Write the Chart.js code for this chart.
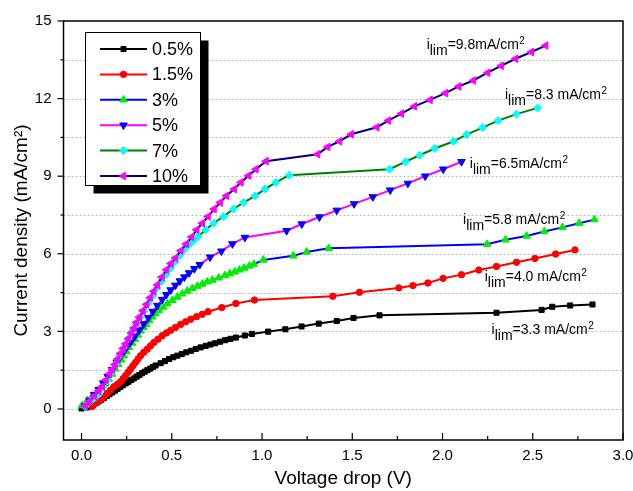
<!DOCTYPE html>
<html>
<head>
<meta charset="utf-8">
<script src="https://cdn.jsdelivr.net/npm/chart.js@4.4.0/dist/chart.umd.min.js"></script>
<style>
html, body { margin: 0; padding: 0; background: #fff; }
#wrap { width: 633px; height: 491px; }
</style>
</head>
<body>
<div id="wrap"><canvas id="ivChart" width="633" height="491"></canvas></div>
<script>
// --- data (V = voltage drop, J = current density)
var seriesNames = ['0.5%', '1.5%', '3%', '5%', '7%', '10%'];

var v05 = [0.0,0.03,0.05,0.065,0.08,0.095,0.11,0.125,0.14,0.155,0.17,0.185,0.2,0.215,0.23,0.245,0.26,0.275,0.29,0.305,0.32,0.335,0.35,0.365,0.38,0.395,0.41,0.438,0.462,0.485,0.508,0.53,0.555,0.58,0.607,0.633,0.66,0.688,0.714,0.74,0.768,0.796,0.825,0.855,0.905,0.944,1.034,1.129,1.219,1.314,1.414,1.507,1.651,2.299,2.549,2.608,2.707,2.831];
var j05 = [0.02,0.06,0.1,0.16,0.22,0.29,0.36,0.43,0.5,0.57,0.64,0.71,0.78,0.85,0.92,0.99,1.05,1.12,1.18,1.25,1.31,1.38,1.44,1.5,1.56,1.62,1.68,1.77,1.85,1.93,2.0,2.06,2.12,2.19,2.25,2.32,2.38,2.44,2.49,2.54,2.6,2.66,2.71,2.76,2.84,2.9,2.99,3.08,3.19,3.3,3.4,3.52,3.62,3.72,3.83,3.95,4.0,4.04];

var v15 = [0.06,0.086,0.1,0.114,0.128,0.142,0.16,0.179,0.198,0.216,0.23,0.244,0.258,0.271,0.285,0.299,0.313,0.327,0.345,0.364,0.382,0.401,0.424,0.447,0.47,0.494,0.52,0.549,0.577,0.605,0.637,0.669,0.701,0.777,0.855,0.958,1.392,1.54,1.758,1.836,1.919,2.003,2.105,2.201,2.299,2.41,2.512,2.627,2.734];
var j15 = [0.1,0.26,0.33,0.42,0.5,0.6,0.72,0.86,0.95,1.05,1.17,1.29,1.42,1.54,1.67,1.8,1.93,2.06,2.19,2.31,2.44,2.57,2.7,2.83,2.94,3.04,3.15,3.27,3.37,3.47,3.57,3.66,3.76,3.92,4.08,4.21,4.36,4.51,4.68,4.77,4.87,5.05,5.19,5.37,5.51,5.67,5.82,5.99,6.15];

var v3 = [0.003,0.031,0.06,0.086,0.11,0.133,0.15,0.169,0.186,0.203,0.22,0.234,0.248,0.262,0.28,0.296,0.312,0.327,0.343,0.358,0.375,0.392,0.41,0.429,0.452,0.475,0.503,0.531,0.558,0.586,0.614,0.642,0.669,0.697,0.725,0.76,0.794,0.821,0.849,0.875,0.901,0.93,0.955,1.007,1.173,1.247,1.369,2.247,2.349,2.466,2.564,2.664,2.757,2.842];
var j3 = [0.13,0.33,0.5,0.62,0.8,0.97,1.15,1.35,1.55,1.73,1.9,2.06,2.22,2.38,2.55,2.7,2.86,3.02,3.15,3.27,3.42,3.56,3.69,3.81,3.94,4.07,4.2,4.33,4.45,4.56,4.66,4.75,4.83,4.92,4.98,5.07,5.16,5.23,5.3,5.38,5.45,5.53,5.6,5.76,5.92,6.07,6.21,6.37,6.54,6.69,6.86,7.02,7.18,7.32];

var v5 = [0.02,0.045,0.07,0.095,0.12,0.145,0.17,0.195,0.22,0.245,0.27,0.295,0.32,0.345,0.37,0.395,0.42,0.447,0.47,0.494,0.52,0.545,0.57,0.596,0.625,0.655,0.712,0.775,0.836,0.905,1.136,1.22,1.318,1.414,1.51,1.614,1.71,1.808,1.904,2.004,2.105];
var j5 = [0.12,0.33,0.55,0.75,1.0,1.25,1.52,1.8,2.07,2.33,2.57,2.81,3.05,3.29,3.53,3.77,4.0,4.23,4.42,4.6,4.78,4.95,5.1,5.26,5.42,5.58,5.87,6.1,6.38,6.63,6.89,7.15,7.42,7.68,7.93,8.2,8.46,8.72,9.0,9.27,9.56];

var v7 = [0.02,0.05,0.075,0.096,0.12,0.142,0.165,0.188,0.21,0.234,0.257,0.281,0.303,0.325,0.346,0.37,0.395,0.419,0.444,0.469,0.494,0.518,0.543,0.568,0.594,0.62,0.646,0.688,0.731,0.786,0.842,0.897,0.962,1.016,1.077,1.151,1.707,1.796,1.873,1.957,2.062,2.133,2.222,2.308,2.41,2.527];
var j7 = [0.1,0.3,0.45,0.58,0.84,1.1,1.42,1.73,2.05,2.38,2.7,3.02,3.28,3.54,3.79,4.08,4.38,4.68,4.94,5.2,5.45,5.69,5.93,6.16,6.34,6.5,6.67,6.93,7.18,7.44,7.73,7.98,8.24,8.5,8.76,9.04,9.27,9.56,9.81,10.07,10.35,10.61,10.88,11.15,11.4,11.64];

var v10 = [0.02,0.045,0.07,0.095,0.115,0.135,0.155,0.17,0.185,0.2,0.215,0.23,0.245,0.26,0.275,0.29,0.305,0.32,0.34,0.36,0.38,0.4,0.42,0.445,0.47,0.495,0.52,0.55,0.58,0.61,0.638,0.669,0.701,0.734,0.768,0.803,0.846,0.883,0.925,0.966,1.022,1.308,1.364,1.429,1.494,1.636,1.7,1.772,1.844,1.931,2.016,2.09,2.171,2.25,2.325,2.405,2.492,2.572];
var j10 = [0.12,0.3,0.5,0.7,0.87,1.12,1.36,1.52,1.72,1.93,2.14,2.33,2.52,2.72,2.93,3.13,3.35,3.55,3.8,4.04,4.3,4.55,4.8,5.1,5.38,5.62,5.84,6.12,6.38,6.65,6.93,7.18,7.44,7.73,7.98,8.24,8.5,8.76,9.02,9.27,9.58,9.85,10.13,10.35,10.62,10.89,11.15,11.42,11.7,11.95,12.21,12.47,12.7,13.0,13.27,13.54,13.8,14.05];

var xTickValues = [0,0.25,0.5,0.75,1.0,1.25,1.5,1.75,2.0,2.25,2.5,2.75,3.0];
var yTickValues = [0,1.5,3,4.5,6,7.5,9,10.5,12,13.5,15];

// limiting current labels: [V, J, text]
var limLabels = [
    [1.912, 13.9, '=9.8mA/cm'],
    [2.346, 11.99, '=8.3 mA/cm'],
    [2.151, 9.32, '=6.5mA/cm'],
    [2.114, 7.14, '=5.8 mA/cm'],
    [2.234, 4.93, '=4.0 mA/cm'],
    [2.272, 2.91, '=3.3 mA/cm']
];

var FONT = 'Arial, "Liberation Sans", sans-serif';

function pts(vs, js) {
    return vs.map(function (v, i) { return { x: v, y: js[i] }; });
}

// line colour, marker colour, marker style, rotation, radius
var styles = [
    ['#000000', '#000000', 'rect', 0, 3.6],
    ['#ff0000', '#ff0000', 'circle', 0, 3.2],
    ['#0000ff', '#00ee00', 'triangle', 0, 4.4],
    ['#ff00ff', '#0000ff', 'triangle', 180, 4.4],
    ['#008000', '#00ffff', 'rectRot', 0, 4],
    ['#000080', '#ff00ff', 'triangle', -90, 4.4]
];
var allV = [v05, v15, v3, v5, v7, v10];
var allJ = [j05, j15, j3, j5, j7, j10];

var datasets = seriesNames.map(function (name, i) {
    var s = styles[i];
    return {
        label: name,
        data: pts(allV[i], allJ[i]),
        borderColor: s[0],
        borderWidth: 2,
        pointStyle: s[2],
        pointRotation: s[3],
        pointRadius: s[4],
        pointBackgroundColor: s[1],
        pointBorderColor: s[1],
        pointBorderWidth: 1,
        tension: 0,
        fill: false,
        order: 5 - i
    };
});

function drawMarker(ctx, ds, x, y) {
    ctx.fillStyle = ds.pointBackgroundColor;
    ctx.strokeStyle = ds.pointBorderColor;
    ctx.lineWidth = 1;
    if (Chart.helpers && Chart.helpers.drawPoint) {
        Chart.helpers.drawPoint(ctx, {
            pointStyle: ds.pointStyle, rotation: ds.pointRotation,
            radius: ds.pointRadius, borderWidth: 1
        }, x, y);
    } else {
        ctx.beginPath(); ctx.arc(x, y, ds.pointRadius, 0, Math.PI * 2); ctx.fill();
    }
}

// --- grid, frame, tick marks
var framePlugin = {
    id: 'frame',
    beforeDatasetsDraw: function (chart) {
        var ctx = chart.ctx, a = chart.chartArea, ys = chart.scales.y;
        ctx.save();
        ctx.strokeStyle = '#b8b8b8';
        ctx.lineWidth = 1;
        ctx.setLineDash([2, 2]);
        yTickValues.forEach(function (v) {
            if (v >= 15) return;
            var py = Math.round(ys.getPixelForValue(v)) + 0.5;
            ctx.beginPath(); ctx.moveTo(a.left, py); ctx.lineTo(a.right, py); ctx.stroke();
        });
        ctx.restore();
    },
    afterDraw: function (chart) {
        var ctx = chart.ctx, a = chart.chartArea, xs = chart.scales.x, ys = chart.scales.y;
        ctx.save();
        ctx.strokeStyle = '#000';
        ctx.lineWidth = 1.5;
        ctx.strokeRect(a.left, a.top, a.right - a.left, a.bottom - a.top);
        ctx.lineWidth = 1.2;
        yTickValues.forEach(function (v, i) {
            var py = ys.getPixelForValue(v);
            var len = (i % 2 === 0) ? 6 : 3;
            ctx.beginPath(); ctx.moveTo(a.left - len, py); ctx.lineTo(a.left, py); ctx.stroke();
        });
        xTickValues.forEach(function (v, i) {
            var px = xs.getPixelForValue(v);
            var len = (i % 2 === 0) ? 7 : 4;
            ctx.beginPath(); ctx.moveTo(px, a.bottom); ctx.lineTo(px, a.bottom - len); ctx.stroke();
        });
        ctx.restore();
    }
};

// --- i_lim annotations
var labelPlugin = {
    id: 'limLabels',
    afterDatasetsDraw: function (chart) {
        var ctx = chart.ctx, xs = chart.scales.x, ys = chart.scales.y;
        ctx.save();
        ctx.fillStyle = '#000';
        ctx.textBaseline = 'alphabetic';
        ctx.textAlign = 'left';
        limLabels.forEach(function (l) {
            var x = xs.getPixelForValue(l[0]);
            var y = ys.getPixelForValue(l[1]);
            ctx.font = '14px ' + FONT;
            ctx.fillText('i', x, y);
            x += ctx.measureText('i').width;
            ctx.fillText('lim', x, y + 6);
            x += ctx.measureText('lim').width;
            ctx.fillText(l[2], x, y);
            x += ctx.measureText(l[2]).width;
            ctx.font = '10px ' + FONT;
            ctx.fillText('2', x + 0.5, y - 5);
        });
        ctx.restore();
    }
};

// --- boxed legend with shadow
var legendPlugin = {
    id: 'boxLegend',
    afterDraw: function (chart) {
        var ctx = chart.ctx;
        var bx = 85.5, by = 32.5, bw = 115, bh = 153;
        ctx.save();
        ctx.fillStyle = '#000';
        ctx.fillRect(bx + 8, by + 8, bw, bh);
        ctx.fillStyle = '#fff';
        ctx.fillRect(bx, by, bw, bh);
        ctx.strokeStyle = '#000';
        ctx.lineWidth = 1;
        ctx.strokeRect(bx, by, bw, bh);
        chart.data.datasets.forEach(function (ds, i) {
            var y = 49 + i * 25.4;
            ctx.strokeStyle = ds.borderColor;
            ctx.lineWidth = 2;
            ctx.beginPath(); ctx.moveTo(100, y); ctx.lineTo(147, y); ctx.stroke();
            drawMarker(ctx, ds, 123.5, y);
            ctx.fillStyle = '#000';
            ctx.font = '18px ' + FONT;
            ctx.textBaseline = 'middle';
            ctx.fillText(ds.label, 152, y + 1);
        });
        ctx.restore();
    }
};

new Chart(document.getElementById('ivChart'), {
    type: 'line',
    data: { datasets: datasets },
    plugins: [framePlugin, labelPlugin, legendPlugin],
    options: {
        responsive: false,
        animation: false,
        layout: { padding: { top: 21, right: 10, bottom: 0, left: 0 } },
        plugins: { legend: { display: false }, tooltip: { enabled: false } },
        scales: {
            x: {
                type: 'linear',
                min: -0.1,
                max: 3.0,
                afterBuildTicks: function (scale) {
                    scale.ticks = xTickValues.map(function (v) { return { value: v }; });
                },
                afterFit: function (scale) {
                    scale.height = 51;
                    scale.paddingLeft = 0;
                    scale.paddingRight = 0;
                },
                grid: { display: false, drawTicks: false },
                border: { display: false },
                ticks: {
                    autoSkip: false,
                    maxRotation: 0,
                    padding: 7,
                    color: '#000',
                    font: { family: FONT, size: 15 },
                    callback: function (v) {
                        return Math.abs(v * 2 - Math.round(v * 2)) < 1e-6 ? v.toFixed(1) : '';
                    }
                },
                title: {
                    display: true,
                    text: 'Voltage drop (V)',
                    color: '#000',
                    font: { family: FONT, size: 19 },
                    padding: { top: 0, bottom: 1 }
                }
            },
            y: {
                type: 'linear',
                min: -1.2,
                max: 15,
                afterBuildTicks: function (scale) {
                    scale.ticks = yTickValues.map(function (v) { return { value: v }; });
                },
                afterFit: function (scale) {
                    scale.width = 63.5;
                    scale.paddingTop = 0;
                    scale.paddingBottom = 0;
                },
                grid: { display: false, drawTicks: false },
                border: { display: false },
                ticks: {
                    autoSkip: false,
                    padding: 12,
                    color: '#000',
                    font: { family: FONT, size: 15 },
                    callback: function (v) {
                        return Math.abs(v / 3 - Math.round(v / 3)) < 1e-6 ? String(v) : '';
                    }
                },
                title: {
                    display: true,
                    text: 'Current density (mA/cm\u00B2)',
                    color: '#000',
                    font: { family: FONT, size: 19 },
                    padding: { top: 10, bottom: 0 }
                }
            }
        }
    }
});
</script>
</body>
</html>
